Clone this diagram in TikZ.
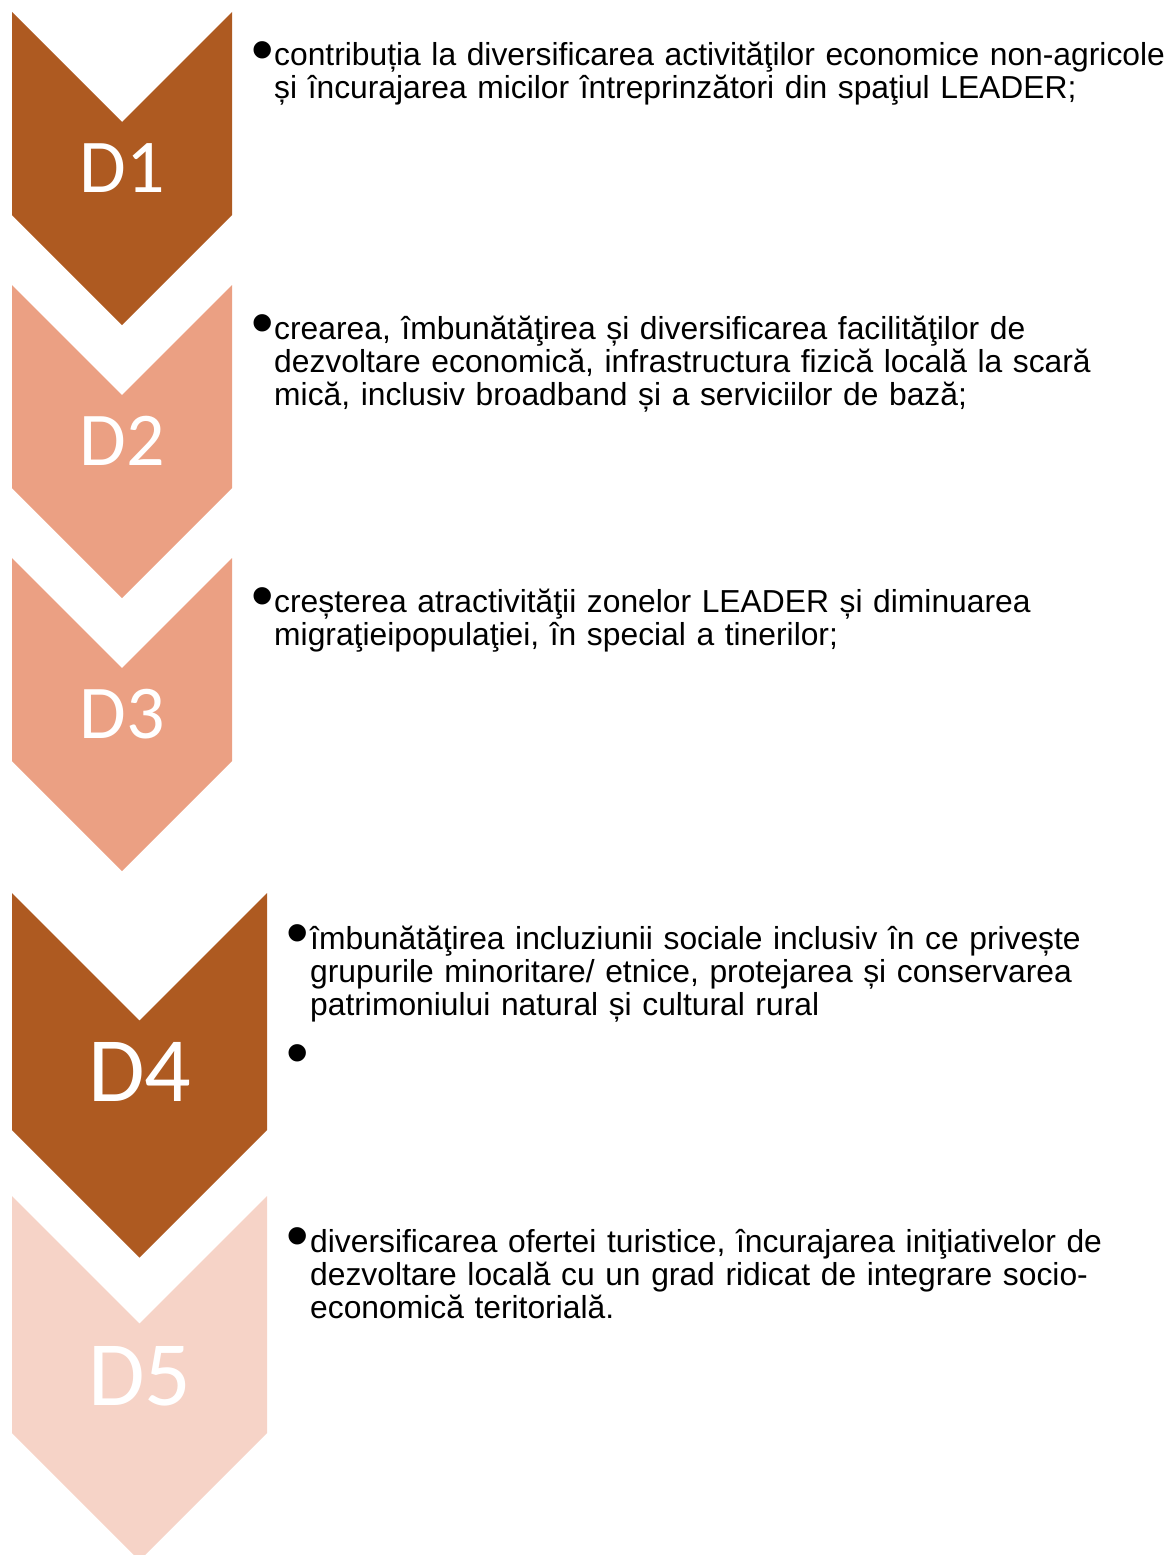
\documentclass[tikz,border=0pt]{standalone}
\usepackage{fontspec}
\setmainfont{Liberation Sans}
\newfontfamily\labelfont{Carlito}

\definecolor{darkbrown}{RGB}{174,90,33}
\definecolor{midsalmon}{RGB}{235,160,131}
\definecolor{palesalmon}{RGB}{246,211,199}

\tikzset{
	dlabel/.style={text=white, inner sep=0pt, anchor=center},
	bulletdot/.style={inner sep=0pt, anchor=center, font=\fontsize{64}{64}\selectfont},
	itemtext/.style={inner sep=0pt, anchor=base west, text width=900pt, align=left, font=\fontsize{31.8}{33}\selectfont}
}

\begin{document}
\begin{tikzpicture}[x=1pt, y=-1pt]
		\useasboundingbox (0, 0) rectangle (1167, 1555);
		\clip (0, 0) rectangle (1167, 1555);
		
		% chevrons
		\fill[darkbrown]  (12, 12) -- (122, 122) -- (232, 12) -- (232, 215) -- (122, 325) -- (12, 215) -- cycle;
		\fill[midsalmon]  (12, 285) -- (122, 395) -- (232, 285) -- (232, 488) -- (122, 598) -- (12, 488) -- cycle;
		\fill[midsalmon]  (12, 558) -- (122, 668) -- (232, 558) -- (232, 761) -- (122, 871) -- (12, 761) -- cycle;
		\fill[darkbrown]  (12, 893) -- (139.5, 1020.5) -- (267, 893) -- (267, 1130) -- (139.5, 1257.5) -- (12, 1130) -- cycle;
		\fill[palesalmon] (12, 1196) -- (139.5, 1323.5) -- (267, 1196) -- (267, 1433) -- (139.5, 1560.5) -- (12, 1433) -- cycle;
		
		\draw node[dlabel, font=\labelfont\fontsize{76}{76}\selectfont] at (122, 168) (d1) {D1};
		\draw node[dlabel, font=\labelfont\fontsize{76}{76}\selectfont] at (122, 441) (d2) {D2};
		\draw node[dlabel, font=\labelfont\fontsize{76}{76}\selectfont] at (122, 714) (d3) {D3};
		\draw node[dlabel, font=\labelfont\fontsize{92}{92}\selectfont] at (140, 1072) (d4) {D4};
		\draw node[dlabel, font=\labelfont\fontsize{92}{92}\selectfont] at (140, 1376) (d5) {D5};
		
		% bullets and texts
		\draw node[bulletdot] at (263, 57) (b1) {•};
		\draw node[itemtext] at (274, 66) (t1) {contribuția la diversificarea activităţilor economice non-agricole\\ și încurajarea micilor întreprinzători din spaţiul LEADER;};
		
		\draw node[bulletdot] at (263, 330) (b2) {•};
		\draw node[itemtext] at (274, 339) (t2) {crearea, îmbunătăţirea și diversificarea facilităţilor de\\ dezvoltare economică, infrastructura fizică locală la scară\\ mică, inclusiv broadband și a serviciilor de bază;};
		
		\draw node[bulletdot] at (263, 603) (b3) {•};
		\draw node[itemtext] at (274, 612) (t3) {creșterea atractivităţii zonelor LEADER și diminuarea\\ migraţieipopulaţiei, în special a tinerilor;};
		
		\draw node[bulletdot] at (298, 940) (b4) {•};
		\draw node[itemtext] at (310, 949) (t4) {îmbunătăţirea incluziunii sociale inclusiv în ce privește\\ grupurile minoritare/ etnice, protejarea și conservarea\\ patrimoniului natural și cultural rural};
		\draw node[bulletdot] at (298, 1060) (b5) {•};
		
		\draw node[bulletdot] at (298, 1243) (b6) {•};
		\draw node[itemtext] at (310, 1252) (t5) {diversificarea ofertei turistice, încurajarea iniţiativelor de\\ dezvoltare locală cu un grad ridicat de integrare socio-\\ economică teritorială.};
	\end{tikzpicture}
\end{document}
